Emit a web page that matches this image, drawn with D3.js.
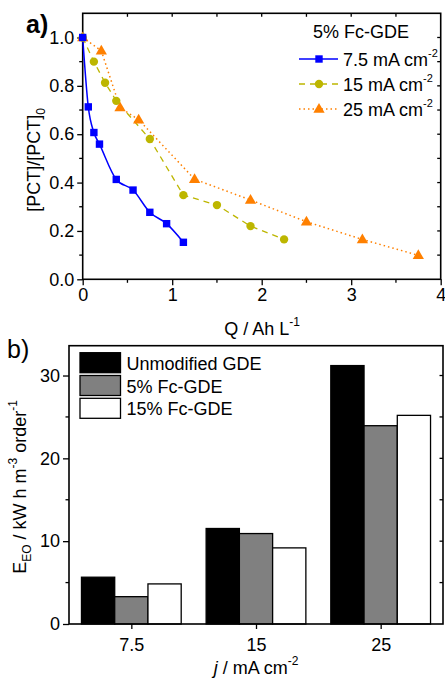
<!DOCTYPE html>
<html>
<head>
<meta charset="utf-8">
<script src="https://cdn.jsdelivr.net/npm/d3@7"></script>
<style>
  body { margin: 0; background: #fff; }
  svg text { font-family: "Liberation Sans", Arial, sans-serif; fill: #000; }
</style>
</head>
<body>
<div id="chart"></div>
<script>
// panel a) - decay of [PCT]/[PCT]0 vs charge
var q75 = [0, 0.0625, 0.125, 0.1875, 0.375, 0.5625, 0.75, 0.9375, 1.125];
var c75 = [1.0, 0.713, 0.607, 0.559, 0.413, 0.369, 0.277, 0.23, 0.153];
var q15 = [0, 0.125, 0.25, 0.375, 0.75, 1.125, 1.5, 1.875, 2.25];
var c15 = [1.0, 0.9, 0.813, 0.738, 0.58, 0.348, 0.307, 0.22, 0.165];
var q25 = [0, 0.208, 0.417, 0.625, 1.25, 1.875, 2.5, 3.125, 3.75];
var c25 = [1.0, 0.945, 0.71, 0.66, 0.414, 0.328, 0.238, 0.165, 0.099];
var seriesNames = ["7.5 mA cm", "15 mA cm", "25 mA cm"];

// panel b) - energy per order
var densities = ["7.5", "15", "25"];
var electrodes = ["Unmodified GDE", "5% Fc-GDE", "15% Fc-GDE"];
var eeoUnmod = [5.65, 11.53, 31.2];
var eeo5 = [3.3, 10.92, 23.94];
var eeo15 = [4.84, 9.19, 25.19];

var svg = d3.select("#chart").append("svg")
    .attr("width", 445)
    .attr("height", 680);

var fs = 18;

// ---------- panel a ----------
var ax = { left: 82.7, right: 440.7, top: 13.3, bottom: 279.3 };
var x = d3.scaleLinear().domain([0, 4]).range([ax.left, ax.right]);
var y = d3.scaleLinear().domain([0, 1.1]).range([ax.bottom, ax.top]);

var ga = svg.append("g");

// minor ticks
function minorTicks(g, vals, pos, horiz, len) {
    vals.forEach(function(v) {
        if (horiz) {
            g.append("line").attr("x1", pos(v)).attr("x2", pos(v))
                .attr("y1", len[0]).attr("y2", len[1]).attr("stroke", "#000").attr("stroke-width", 1.3);
        } else {
            g.append("line").attr("y1", pos(v)).attr("y2", pos(v))
                .attr("x1", len[0]).attr("x2", len[1]).attr("stroke", "#000").attr("stroke-width", 1.3);
        }
    });
}

var xAxisA = d3.axisBottom(x).tickValues([0, 1, 2, 3, 4]).tickSize(6).tickPadding(3).tickFormat(d3.format("d"));
ga.append("g").attr("transform", "translate(0," + ax.bottom + ")").call(xAxisA);
var yAxisA = d3.axisLeft(y).tickValues([0, 0.2, 0.4, 0.6, 0.8, 1.0]).tickSize(5.5).tickPadding(3).tickFormat(d3.format(".1f"));
ga.append("g").attr("transform", "translate(" + ax.left + ",0)").call(yAxisA);

minorTicks(ga, [0.5, 1.5, 2.5, 3.5], x, true, [ax.bottom, ax.bottom + 3.5]);
minorTicks(ga, [0.1, 0.3, 0.5, 0.7, 0.9], y, false, [ax.left - 3.5, ax.left]);
// top / right inward ticks
minorTicks(ga, [0.5, 1, 1.5, 2, 2.5, 3, 3.5], x, true, [ax.top, ax.top + 3.5]);
minorTicks(ga, [0.1, 0.2, 0.3, 0.4, 0.5, 0.6, 0.7, 0.8, 0.9, 1.0], y, false, [ax.right - 3.5, ax.right]);

ga.append("rect").attr("x", ax.left).attr("y", ax.top)
    .attr("width", ax.right - ax.left).attr("height", ax.bottom - ax.top)
    .attr("fill", "none").attr("stroke", "#000").attr("stroke-width", 1.6);

ga.selectAll(".domain").remove();
ga.selectAll(".tick line").attr("stroke-width", 1.3);
ga.selectAll(".tick text").style("font-size", fs + "px").style("font-family", "Liberation Sans, Arial, sans-serif");

var blue = "#0000ff", olive = "#bdb600", orange = "#ff8000";

var s75 = q75.map(function(q, i) { return [q, c75[i]]; });
var s15 = q15.map(function(q, i) { return [q, c15[i]]; });
var s25 = q25.map(function(q, i) { return [q, c25[i]]; });

var lineSmooth = d3.line().x(function(d) { return x(d[0]); }).y(function(d) { return y(d[1]); }).curve(d3.curveMonotoneX);
var lineFlat = d3.line().x(function(d) { return x(d[0]); }).y(function(d) { return y(d[1]); });

ga.append("path").datum(s25).attr("d", lineFlat).attr("fill", "none")
    .attr("stroke", orange).attr("stroke-width", 1.5).attr("stroke-dasharray", "1.5,3");
ga.append("path").datum(s15).attr("d", lineFlat).attr("fill", "none")
    .attr("stroke", olive).attr("stroke-width", 1.3).attr("stroke-dasharray", "6,5");
ga.append("path").datum(s75).attr("d", lineSmooth).attr("fill", "none")
    .attr("stroke", blue).attr("stroke-width", 1.5);

var tri = d3.symbol().type(d3.symbolTriangle).size(55);
var circ = d3.symbol().type(d3.symbolCircle).size(55);

ga.selectAll(".tri").data(s25).enter().append("path")
    .attr("d", tri).attr("fill", orange)
    .attr("transform", function(d) { return "translate(" + x(d[0]) + "," + (y(d[1]) + 0.5) + ")"; });
ga.selectAll(".circ").data(s15).enter().append("path")
    .attr("d", circ).attr("fill", olive)
    .attr("transform", function(d) { return "translate(" + x(d[0]) + "," + y(d[1]) + ")"; });
ga.selectAll(".sq").data(s75).enter().append("rect")
    .attr("x", function(d) { return x(d[0]) - 3.7; })
    .attr("y", function(d) { return y(d[1]) - 3.7; })
    .attr("width", 7.4).attr("height", 7.4).attr("fill", blue);

// legend a
ga.append("text").attr("x", 361).attr("y", 38).attr("text-anchor", "middle")
    .style("font-size", fs + "px").text("5% Fc-GDE");
var legA = [
    { color: blue, dash: null, sym: "sq" },
    { color: olive, dash: "6,5", sym: "circ" },
    { color: orange, dash: "1.5,3", sym: "tri" }
];
legA.forEach(function(l, i) {
    var ly = 59 + i * 25;
    ga.append("line").attr("x1", 299).attr("x2", 338).attr("y1", ly).attr("y2", ly)
        .attr("stroke", l.color).attr("stroke-width", 1.5)
        .attr("stroke-dasharray", l.dash);
    if (l.sym == "sq") {
        ga.append("rect").attr("x", 319 - 3.7).attr("y", ly - 3.7).attr("width", 7.4).attr("height", 7.4).attr("fill", l.color);
    } else {
        ga.append("path").attr("d", l.sym == "tri" ? tri : circ).attr("fill", l.color)
            .attr("transform", "translate(319," + (ly + (l.sym == "tri" ? 0.5 : 0)) + ")");
    }
    var t = ga.append("text").attr("x", 343).attr("y", ly + 6.5).style("font-size", fs + "px");
    t.append("tspan").text(seriesNames[i]);
    t.append("tspan").attr("dy", -9).style("font-size", "11px").text("-2");
});

// axis labels a
ga.append("text").attr("x", 26).attr("y", 33).style("font-size", "25px").style("font-weight", "bold").text("a)");
var xl = ga.append("text").attr("x", 262).attr("y", 335).attr("text-anchor", "middle").style("font-size", fs + "px");
xl.append("tspan").text("Q / Ah L");
xl.append("tspan").attr("dy", -9).style("font-size", "12px").text("-1");

var yl = ga.append("text").attr("transform", "translate(40,160) rotate(-90)").attr("text-anchor", "middle").style("font-size", fs + "px");
yl.append("tspan").text("[PCT]/[PCT]");
yl.append("tspan").attr("dy", 5).style("font-size", "12px").text("0");

// ---------- panel b ----------
var bx = { left: 69, right: 443, top: 345.7, bottom: 624 };
var x0 = d3.scaleBand().domain(densities).range([bx.left, bx.right]).paddingInner(0.2).paddingOuter(0.1);
var x1 = d3.scaleBand().domain(electrodes).range([0, x0.bandwidth()]);
var yb = d3.scaleLinear().domain([0, 33.6]).range([bx.bottom, bx.top]);

var gb = svg.append("g");

var barData = densities.map(function(dn, i) {
    return [eeoUnmod[i], eeo5[i], eeo15[i]].map(function(v, k) {
        return { j: dn, el: electrodes[k], v: v };
    });
});
var fills = d3.scaleOrdinal().domain(electrodes).range(["#000000", "#808080", "#ffffff"]);

gb.selectAll(".grp").data(barData).enter().append("g")
    .attr("transform", function(d, i) { return "translate(" + x0(densities[i]) + ",0)"; })
    .selectAll("rect").data(function(d) { return d; }).enter().append("rect")
    .attr("x", function(d) { return x1(d.el); })
    .attr("y", function(d) { return yb(d.v); })
    .attr("width", x1.bandwidth())
    .attr("height", function(d) { return yb(0) - yb(d.v); })
    .attr("fill", function(d) { return fills(d.el); })
    .attr("stroke", "#000").attr("stroke-width", 1.3);

var xAxisB = d3.axisBottom(d3.scalePoint().domain(densities).range([x0("7.5") + x0.bandwidth() / 2, x0("25") + x0.bandwidth() / 2]))
    .tickSize(5).tickPadding(9);
gb.append("g").attr("transform", "translate(0," + bx.bottom + ")").call(xAxisB);
var yAxisB = d3.axisLeft(yb).tickValues([0, 10, 20, 30]).tickSize(6).tickPadding(3);
gb.append("g").attr("transform", "translate(" + bx.left + ",0)").call(yAxisB);

minorTicks(gb, [5, 15, 25], yb, false, [bx.left - 3.5, bx.left]);
minorTicks(gb, [5, 10, 15, 20, 25, 30], yb, false, [bx.right - 3.5, bx.right]);

gb.append("rect").attr("x", bx.left).attr("y", bx.top)
    .attr("width", bx.right - bx.left).attr("height", bx.bottom - bx.top)
    .attr("fill", "none").attr("stroke", "#000").attr("stroke-width", 1.6);

gb.selectAll(".domain").remove();
gb.selectAll(".tick line").attr("stroke-width", 1.3);
gb.selectAll(".tick text").style("font-size", fs + "px").style("font-family", "Liberation Sans, Arial, sans-serif");

// legend b
electrodes.forEach(function(e, i) {
    var ly = 352.7 + i * 22.8;
    gb.append("rect").attr("x", 80).attr("y", ly).attr("width", 40.5).attr("height", 20)
        .attr("fill", fills(e)).attr("stroke", "#000").attr("stroke-width", 1.3);
    gb.append("text").attr("x", 126.5).attr("y", ly + 17).style("font-size", fs + "px").text(e);
});

gb.append("text").attr("x", 7).attr("y", 358).style("font-size", "25px").text("b)");

var xlb = gb.append("text").attr("x", 256).attr("y", 674).attr("text-anchor", "middle").style("font-size", fs + "px");
xlb.append("tspan").style("font-style", "italic").text("j");
xlb.append("tspan").text(" / mA cm");
xlb.append("tspan").attr("dy", -9).style("font-size", "12px").text("-2");

var ylb = gb.append("text").attr("transform", "translate(26,487) rotate(-90)").attr("text-anchor", "middle").style("font-size", fs + "px");
ylb.append("tspan").text("E");
ylb.append("tspan").attr("dy", 5).style("font-size", "12px").text("EO");
ylb.append("tspan").attr("dy", -5).text(" / kW h m");
ylb.append("tspan").attr("dy", -9).style("font-size", "12px").text("-3");
ylb.append("tspan").attr("dy", 9).text(" order");
ylb.append("tspan").attr("dy", -9).style("font-size", "12px").text("-1");
</script>
</body>
</html>
